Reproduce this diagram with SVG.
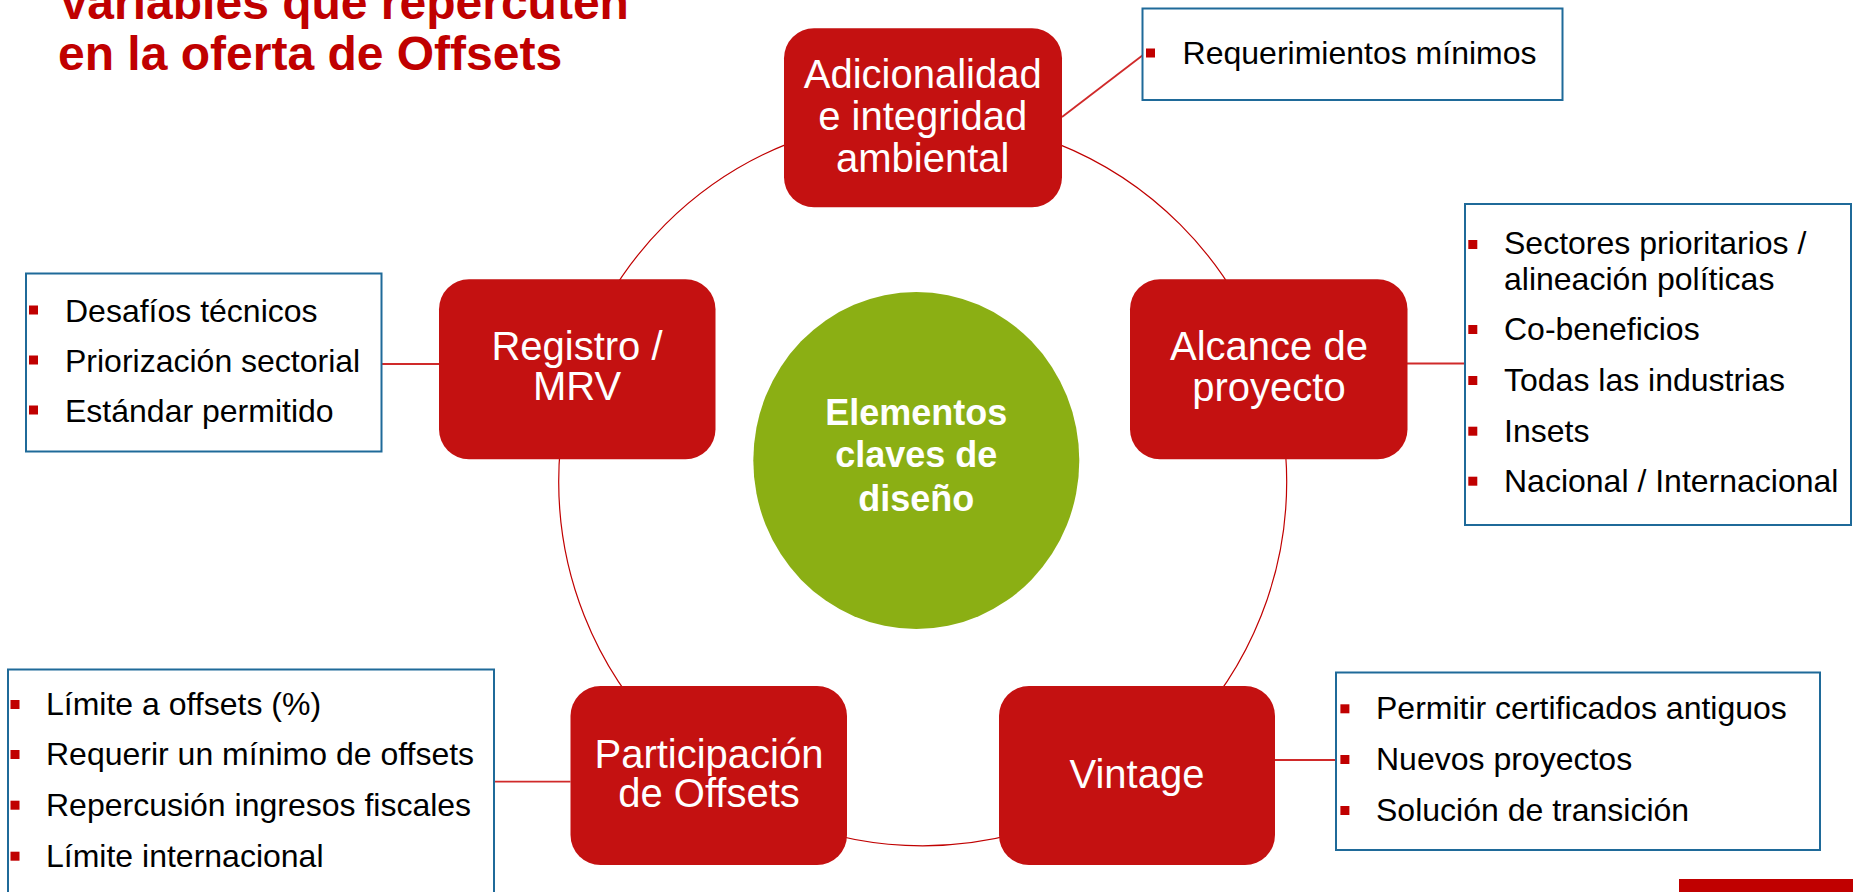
<svg xmlns="http://www.w3.org/2000/svg" width="1853" height="892" viewBox="0 0 1853 892">
  <style>
    .title { font-family: "Liberation Sans", Arial, sans-serif; font-weight: bold; font-size: 48px; fill: #C00000; }
    .node rect.box { fill: #C41111; }
    .lbl { font-family: "Liberation Sans", Arial, sans-serif; font-size: 40px; fill: #FFFFFF; text-anchor: middle; }
    .center { font-family: "Liberation Sans", Arial, sans-serif; font-weight: bold; font-size: 36px; fill: #FFFFFF; text-anchor: middle; }
    .side { fill: #FFFFFF; stroke: #1F6A99; stroke-width: 2; }
    .item { font-family: "Liberation Sans", Arial, sans-serif; font-size: 32px; fill: #000000; }
    .bul { fill: #C00000; }
    .ring { fill: none; stroke: #C00000; stroke-width: 1.2; }
    .conn { fill: none; stroke: #D02A2A; stroke-width: 1.8; }
  </style>

  <rect x="0" y="0" width="1853" height="892" fill="#FFFFFF"/>

  <g id="title">
    <text class="title" x="58" y="19">Variables que repercuten</text>
    <text class="title" x="58" y="70">en la oferta de Offsets</text>
  </g>

  <g id="connectors">
    <circle class="ring" cx="922.7" cy="481.8" r="364"/>
    <line class="conn" x1="1062" y1="117" x2="1143" y2="55"/>
    <line class="conn" x1="381.5" y1="364" x2="439" y2="364"/>
    <line class="conn" x1="1407" y1="363.5" x2="1465" y2="363.5"/>
    <line class="conn" x1="494" y1="781.7" x2="570.5" y2="781.7"/>
    <line class="conn" x1="1275" y1="760" x2="1336" y2="760"/>
  </g>

  <g id="center-node">
    <ellipse cx="916.3" cy="460.5" rx="163" ry="168.5" fill="#8BAF14"/>
    <text class="center" x="916.3" y="425">Elementos</text>
    <text class="center" x="916.3" y="467.3">claves de</text>
    <text class="center" x="916.3" y="510.7">diseño</text>
  </g>

  <g id="node-adicionalidad" class="node">
    <rect class="box" x="784" y="28.3" width="278" height="179" rx="30" ry="30"/>
    <text class="lbl" x="922.7" y="88.3">Adicionalidad</text>
    <text class="lbl" x="922.7" y="130">e integridad</text>
    <text class="lbl" x="922.7" y="171.7">ambiental</text>
  </g>

  <g id="node-registro" class="node">
    <rect class="box" x="439" y="279.3" width="276.5" height="180" rx="30" ry="30"/>
    <text class="lbl" x="577" y="360">Registro /</text>
    <text class="lbl" x="577" y="400">MRV</text>
  </g>

  <g id="node-alcance" class="node">
    <rect class="box" x="1130" y="279.3" width="277.5" height="180" rx="30" ry="30"/>
    <text class="lbl" x="1269" y="360">Alcance de</text>
    <text class="lbl" x="1269" y="400.7">proyecto</text>
  </g>

  <g id="node-participacion" class="node">
    <rect class="box" x="570.5" y="686" width="276.5" height="179" rx="30" ry="30"/>
    <text class="lbl" x="709" y="767.5">Participación</text>
    <text class="lbl" x="709" y="807">de Offsets</text>
  </g>

  <g id="node-vintage" class="node">
    <rect class="box" x="999" y="686" width="276" height="179" rx="30" ry="30"/>
    <text class="lbl" x="1137" y="788.3">Vintage</text>
  </g>

  <g id="box-requerimientos">
    <rect class="side" x="1142.5" y="8.5" width="420" height="91.5"/>
    <rect class="bul" x="1146" y="48.5" width="9" height="9"/>
    <text class="item" x="1182.6" y="64.3">Requerimientos mínimos</text>
  </g>

  <g id="box-registro">
    <rect class="side" x="26" y="273.5" width="355.5" height="178"/>
    <rect class="bul" x="29" y="305.5" width="9" height="9"/>
    <rect class="bul" x="29" y="355.5" width="9" height="9"/>
    <rect class="bul" x="29" y="405.5" width="9" height="9"/>
    <text class="item" x="65" y="321.7">Desafíos técnicos</text>
    <text class="item" x="65" y="371.7">Priorización sectorial</text>
    <text class="item" x="65" y="421.7">Estándar permitido</text>
  </g>

  <g id="box-alcance">
    <rect class="side" x="1465" y="204" width="386" height="321"/>
    <rect class="bul" x="1468.3" y="240" width="9" height="9"/>
    <rect class="bul" x="1468.3" y="325" width="9" height="9"/>
    <rect class="bul" x="1468.3" y="376" width="9" height="9"/>
    <rect class="bul" x="1468.3" y="426.7" width="9" height="9"/>
    <rect class="bul" x="1468.3" y="476.7" width="9" height="9"/>
    <text class="item" x="1504" y="254">Sectores prioritarios /</text>
    <text class="item" x="1504" y="290">alineación políticas</text>
    <text class="item" x="1504" y="340">Co-beneficios</text>
    <text class="item" x="1504" y="391">Todas las industrias</text>
    <text class="item" x="1504" y="441.7">Insets</text>
    <text class="item" x="1504" y="491.7">Nacional / Internacional</text>
  </g>

  <g id="box-participacion">
    <rect class="side" x="8" y="669.5" width="486" height="240"/>
    <rect class="bul" x="10.5" y="700" width="9" height="9"/>
    <rect class="bul" x="10.5" y="750" width="9" height="9"/>
    <rect class="bul" x="10.5" y="800.7" width="9" height="9"/>
    <rect class="bul" x="10.5" y="851.7" width="9" height="9"/>
    <text class="item" x="46" y="715">Límite a offsets (%)</text>
    <text class="item" x="46" y="765">Requerir un mínimo de offsets</text>
    <text class="item" x="46" y="815.7">Repercusión ingresos fiscales</text>
    <text class="item" x="46" y="866.7">Límite internacional</text>
  </g>

  <g id="box-vintage">
    <rect class="side" x="1336" y="672.5" width="484" height="177.5"/>
    <rect class="bul" x="1340.4" y="704.3" width="9" height="9"/>
    <rect class="bul" x="1340.4" y="755" width="9" height="9"/>
    <rect class="bul" x="1340.4" y="806" width="9" height="9"/>
    <text class="item" x="1376" y="719.3">Permitir certificados antiguos</text>
    <text class="item" x="1376" y="770">Nuevos proyectos</text>
    <text class="item" x="1376" y="821">Solución de transición</text>
  </g>

  <rect id="footer-bar" x="1679" y="879" width="174" height="13" fill="#C00000"/>
</svg>
